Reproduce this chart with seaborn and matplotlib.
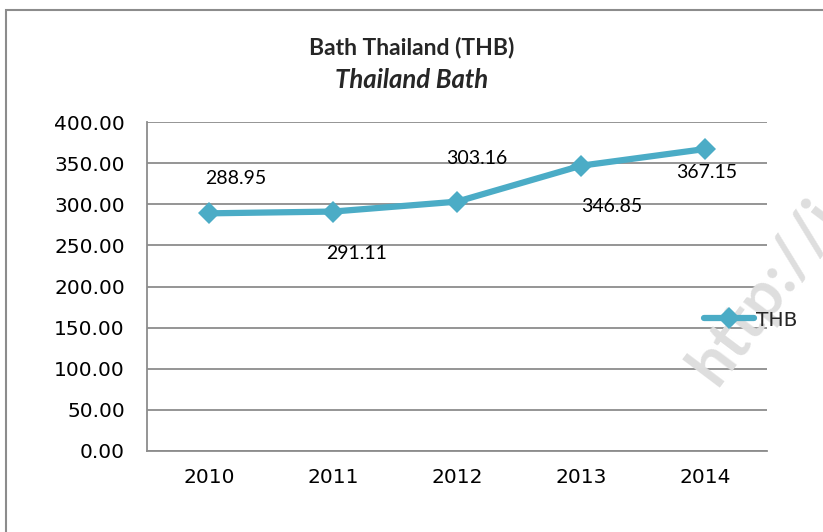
import matplotlib
matplotlib.use("Agg")
import matplotlib.pyplot as plt
import seaborn as sns
import pandas as pd
from matplotlib.patches import Rectangle
from matplotlib.ticker import FormatStrFormatter

years = ["2010", "2011", "2012", "2013", "2014"]
thb = [288.95, 291.11, 303.16, 346.85, 367.15]
series_name = "THB"
title = "Bath Thailand (THB)"
subtitle = "Thailand Bath"
yticks = [0, 50, 100, 150, 200, 250, 300, 350, 400]

df = pd.DataFrame({"year": years, "value": thb, "series": series_name})

sns.set_theme(style="white")
plt.rcParams["font.family"] = ["Lato", "DejaVu Sans"]

W, H = 823, 532
fig = plt.figure(figsize=(W / 100, H / 100), dpi=100)
ax = fig.add_axes([147 / W, 1 - 451 / H, (767 - 147) / W, (451 - 122) / H])

color = "#4BACC6"
sns.lineplot(data=df, x="year", y="value", hue="series", palette=[color],
             marker="D", markersize=11, linewidth=4.5, markeredgewidth=0,
             ax=ax, sort=False, zorder=3)

ax.set_xlim(-0.5, len(years) - 0.5)
ax.set_ylim(0, 400)
ax.set_yticks(yticks)
ax.yaxis.set_major_formatter(FormatStrFormatter("%.2f"))
ax.yaxis.grid(True, color="#8c8c8c", linewidth=1.3)
ax.set_axisbelow(True)
ax.patch.set_alpha(0)
ax.set_xlabel("")
ax.set_ylabel("")
ax.tick_params(axis="both", labelsize=14.5, colors="black", length=0)
ax.tick_params(axis="x", pad=12)
ax.tick_params(axis="y", pad=16)
for lab in ax.get_xticklabels() + ax.get_yticklabels():
    lab.set_family("DejaVu Sans")
for s in ["top", "right"]:
    ax.spines[s].set_visible(False)
for s in ["left", "bottom"]:
    ax.spines[s].set_color("#8c8c8c")
    ax.spines[s].set_linewidth(1.3)

# data labels (offsets in pixels)
offsets = [(27, 35), (24, -42), (20, 43), (31, -41), (2, -23)]
for i, (v, off) in enumerate(zip(thb, offsets)):
    ax.annotate(f"{v:.2f}", xy=(i, v), xytext=off, textcoords="offset pixels",
                ha="center", va="center", fontsize=14, color="black")

ax.legend_.remove()
handles, labels = ax.get_legend_handles_labels()
leg = fig.legend(handles, labels, loc="center left",
                 bbox_to_anchor=(696 / W, 1 - 320 / H),
                 frameon=False, handlelength=2.5, handletextpad=0.1,
                 borderaxespad=0, prop={"family": "DejaVu Sans", "size": 14.5})
leg.set_zorder(5)

fig.text(0.5, 1 - 47 / H, title, ha="center", va="center", fontsize=16.5,
         fontweight="bold")
fig.text(0.5, 1 - 80 / H, subtitle, ha="center", va="center", fontsize=18.5,
         fontweight="bold", style="italic")

# watermark (partly outside the picture, as in the original)
fig.text(716 / W, 1 - 388 / H, "http://i", rotation=53, ha="left", va="baseline",
         rotation_mode="anchor", fontsize=46, fontweight="bold",
         color="#dedede", zorder=0)

# outer frame
fig.patches.append(Rectangle((6 / W, -0.1), 1.1, 1 - 10 / H + 0.1,
                             transform=fig.transFigure, fill=False,
                             edgecolor="#8c8c8c", linewidth=1.5))

fig.savefig("out.png", dpi=100)
